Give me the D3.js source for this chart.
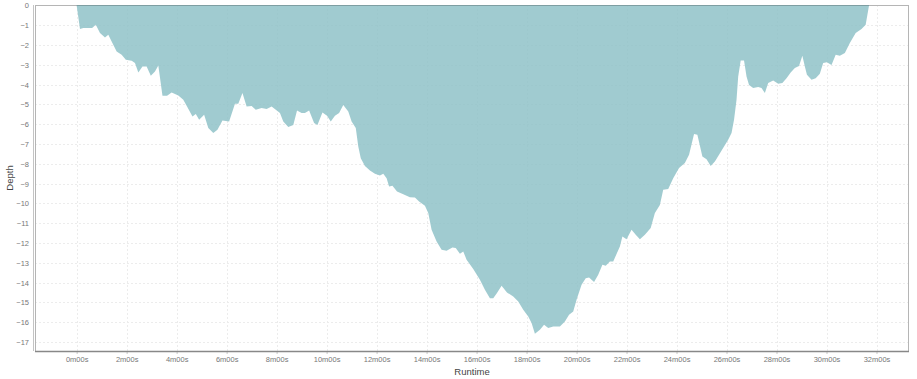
<!DOCTYPE html>
<html lang="en">
<head>
<meta charset="UTF-8">
<title>Dive profile</title>
<style>
  body { margin: 0; background: #fff; }
  text { font-family: "Liberation Sans", Arial, sans-serif; }
</style>
</head>
<body>
<script src="https://cdn.jsdelivr.net/npm/d3@7"></script>
<script>
// runtime in seconds, depth in metres
const runtime = [0, 8, 16, 37, 46, 56, 68, 76, 84, 96, 108, 118, 132, 140, 148, 158, 168, 178, 188, 196,
  206, 217, 228, 244, 256, 265, 278, 286, 294, 306, 316, 328, 338, 350, 366, 380, 388, 398, 408, 420,
  430, 444, 456, 468, 488, 496, 508, 520, 529, 540, 548, 558, 570, 578, 590, 601, 610, 620, 630, 640,
  652, 660, 670, 676, 682, 692, 704, 716, 728, 736, 744, 750, 758, 769, 784, 800, 812, 822, 836, 844,
  852, 864, 876, 888, 902, 910, 920, 928, 936, 952, 968, 980, 992, 1000, 1009, 1020, 1033, 1048, 1060, 1072,
  1084, 1092, 1100, 1112, 1122, 1132, 1144, 1160, 1172, 1182, 1192, 1200, 1212, 1222, 1230, 1242, 1252, 1262, 1270, 1280,
  1288, 1304, 1310, 1320, 1332, 1342, 1352, 1364, 1378, 1388, 1400, 1408, 1420, 1432, 1446, 1460, 1470, 1482, 1490, 1502,
  1512, 1522, 1532, 1542, 1554, 1564, 1572, 1578, 1584, 1588, 1594, 1602, 1608, 1614, 1624, 1636, 1644, 1652, 1660, 1672,
  1684, 1694, 1704, 1714, 1724, 1734, 1742, 1748, 1753, 1764, 1774, 1784, 1792, 1801, 1812, 1822, 1832, 1844, 1856, 1870,
  1884, 1894, 1902];

const depth = [0, -1.19, -1.14, -1.14, -0.97, -1.39, -1.62, -1.48, -1.82, -2.32, -2.49, -2.74, -2.79, -2.91, -3.38, -3.08, -3.08, -3.55, -3.33, -3.03,
  -4.56, -4.56, -4.39, -4.55, -4.76, -5.10, -5.61, -5.48, -5.77, -5.52, -6.19, -6.44, -6.28, -5.81, -5.86, -4.96, -4.96, -4.42, -5.10, -5.07,
  -5.27, -5.18, -5.23, -5.10, -5.43, -5.86, -6.14, -6.03, -5.30, -5.43, -5.43, -5.30, -5.94, -6.03, -5.40, -5.57, -5.86, -5.57, -5.43, -5.02,
  -5.35, -5.86, -6.19, -7.12, -7.71, -8.10, -8.33, -8.50, -8.59, -8.50, -8.72, -9.14, -9.11, -9.39, -9.53, -9.68, -9.70, -9.90, -10.12, -10.48,
  -11.33, -11.92, -12.34, -12.39, -12.22, -12.25, -12.54, -12.42, -12.84, -13.31, -13.85, -14.36, -14.78, -14.78, -14.52, -14.16, -14.49, -14.70, -14.95, -15.37,
  -15.71, -16.04, -16.58, -16.38, -16.13, -16.29, -16.21, -16.21, -15.96, -15.62, -15.45, -14.86, -14.11, -13.77, -13.74, -13.97, -13.60, -13.10, -13.15, -12.93,
  -12.93, -12.17, -11.67, -11.80, -11.33, -11.58, -11.80, -11.58, -11.24, -10.48, -10.07, -9.31, -9.27, -8.72, -8.21, -7.96, -7.54, -6.49, -6.53, -7.63,
  -7.76, -8.10, -7.88, -7.54, -7.12, -6.78, -6.44, -5.77, -4.76, -3.59, -2.78, -2.78, -3.59, -4.01, -4.17, -4.12, -4.17, -4.42, -3.92, -3.79,
  -3.95, -3.92, -3.67, -3.38, -3.16, -3.05, -2.54, -3.08, -3.50, -3.75, -3.67, -3.45, -2.91, -2.86, -3.00, -2.49, -2.54, -2.40, -1.90, -1.39,
  -1.19, -0.97, 0];

const xTicks = d3.range(0, 33 * 60, 120);   // every 2 minutes
const yTicks = d3.range(0, -18, -1);

const width = 917, height = 379;
const mLeft = 35, mRight = 909, mTop = 5, mBottom = 351;

const x = d3.scaleLinear().domain([-100, 1998]).range([mLeft, mRight]);
const y = d3.scaleLinear().domain([-17.45, 0]).range([mBottom, mTop + 0.5]);

const fmt = s => Math.floor(s / 60) + "m" + String(s % 60).padStart(2, "0") + "s";

const svg = d3.select("body").append("svg")
  .attr("width", width)
  .attr("height", height);

// grid
svg.append("g")
  .selectAll("line")
  .data(yTicks.slice(1))
  .join("line")
  .attr("x1", mLeft).attr("x2", mRight)
  .attr("y1", d => Math.round(y(d)) + 0.5).attr("y2", d => Math.round(y(d)) + 0.5)
  .attr("stroke", "#ececec")
  .attr("stroke-dasharray", "2,2");

svg.append("g")
  .selectAll("line")
  .data(xTicks)
  .join("line")
  .attr("x1", d => Math.round(x(d)) + 0.5).attr("x2", d => Math.round(x(d)) + 0.5)
  .attr("y1", mTop).attr("y2", mBottom)
  .attr("stroke", "#ececec")
  .attr("stroke-dasharray", "2,2");

// profile
const pts = runtime.map((t, i) => [t, depth[i]]);
const area = d3.area()
  .x(d => x(d[0]))
  .y0(y(0))
  .y1(d => y(d[1]));

svg.append("path")
  .datum(pts)
  .attr("d", area)
  .attr("fill", "#8fc2c8")
  .attr("fill-opacity", 0.85);

// frame
svg.append("rect")
  .attr("x", mLeft + 0.5).attr("y", mTop + 0.5)
  .attr("width", mRight - mLeft - 1).attr("height", mBottom - mTop)
  .attr("fill", "none")
  .attr("stroke", "#b5b5b5");

svg.append("line")
  .attr("x1", x(0)).attr("x2", x(1902))
  .attr("y1", mTop + 0.5).attr("y2", mTop + 0.5)
  .attr("stroke", "#7e9ea2");

// left axis (double line)
svg.append("line")
  .attr("x1", mLeft - 1.5).attr("x2", mLeft - 1.5)
  .attr("y1", mTop).attr("y2", mBottom)
  .attr("stroke", "#c4c4c4");

// bottom axis
const xAxis = d3.axisBottom(x)
  .tickValues(xTicks)
  .tickFormat(fmt)
  .tickSize(3)
  .tickPadding(3);

const gx = svg.append("g")
  .attr("transform", `translate(0,${mBottom})`)
  .attr("color", "#777")
  .call(xAxis);
gx.select(".domain").remove();
gx.selectAll(".tick line").attr("stroke", "#c8c8c8");
gx.selectAll(".tick text")
  .attr("fill", "#777")
  .attr("font-size", 7.5)
  .attr("font-family", "Liberation Sans, Arial, sans-serif");

svg.append("line")
  .attr("x1", mLeft).attr("x2", mRight)
  .attr("y1", mBottom + 0.5).attr("y2", mBottom + 0.5)
  .attr("stroke", "#888")
  .attr("stroke-width", 1.5);

// left axis labels
const yAxis = d3.axisLeft(y)
  .tickValues(yTicks)
  .tickFormat(d3.format("d"))
  .tickSize(0)
  .tickPadding(5);

const gy = svg.append("g")
  .attr("transform", `translate(${mLeft - 1},0)`)
  .attr("color", "#777")
  .call(yAxis);
gy.select(".domain").remove();
gy.selectAll(".tick text")
  .attr("fill", "#777")
  .attr("font-size", 7.5)
  .attr("font-family", "Liberation Sans, Arial, sans-serif");

// titles
svg.append("text")
  .attr("x", (mLeft + mRight) / 2)
  .attr("y", 375)
  .attr("text-anchor", "middle")
  .attr("font-size", 9.5)
  .attr("fill", "#444")
  .text("Runtime");

svg.append("text")
  .attr("transform", `translate(13,${(mTop + mBottom) / 2}) rotate(-90)`)
  .attr("text-anchor", "middle")
  .attr("font-size", 9.5)
  .attr("fill", "#444")
  .text("Depth");
</script>
</body>
</html>
